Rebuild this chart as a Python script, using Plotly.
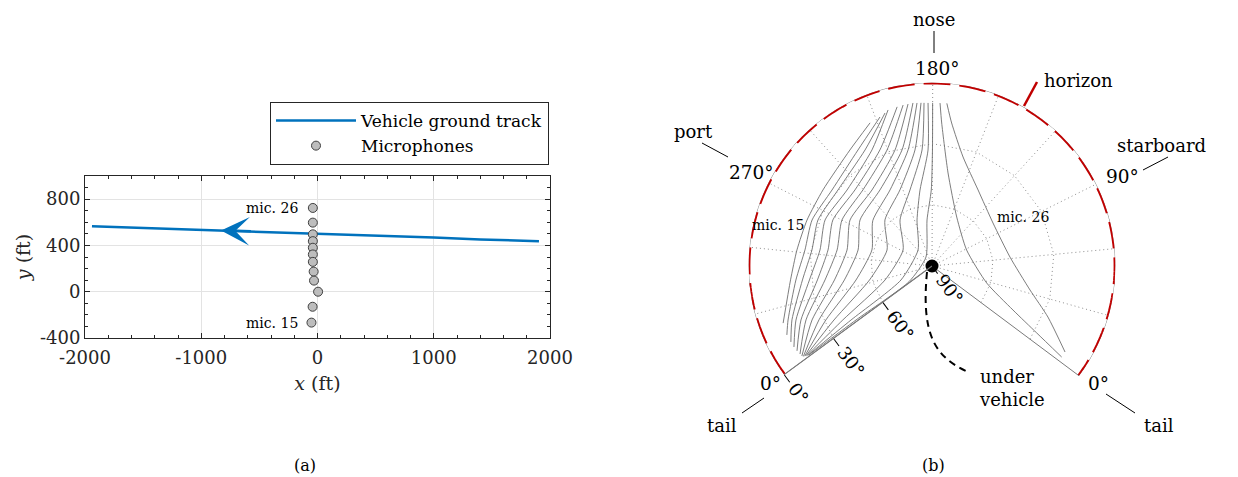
import plotly.graph_objects as go

W, H = 1238, 477
FONT = "DejaVu Serif"
BLUE = "#0072BD"
RED = "#C00000"
GREY = "#7a7a7a"
INK = "#262626"

# ---------------- panel (a): ground track and microphones ----------------
track_x = [-1940, -1000, 0, 1000, 1400, 1905]
track_y = [565, 536, 504, 468, 452, 437]
mic_x = [-40, -40, -40, -40, -40, -40, -40, -33, -30, 5, -42, -52]
mic_y = [724, 597, 496, 437, 380, 322, 258, 174, 96, 0, -130, -267]
x_ticks = [-2000, -1000, 0, 1000, 2000]
y_ticks = [-400, 0, 400, 800]

# ---------------- panel (b): emission directions (azimuth, elevation in deg) ----------------
port_1_az = [213.6, 230.5, 258.7, 279.6, 298.7, 316.3, 338.2]
port_1_el = [13.5, 20.3, 24.8, 24.7, 23.3, 20.3, 11.8]
port_2_az = [207.7, 226.6, 255.4, 278.5, 298.1, 316.7, 337.6, 344.5]
port_2_el = [12.6, 22.5, 28.4, 27.0, 27.2, 22.9, 14.6, 11.2]
port_3_az = [204.6, 223.0, 252.9, 277.1, 297.5, 317.1, 338.3, 348.6]
port_3_el = [11.5, 24.3, 30.7, 29.7, 30.6, 26.1, 16.4, 11.4]
port_4_az = [202.7, 219.2, 248.9, 275.2, 296.8, 317.6, 339.2, 351.6]
port_4_el = [10.5, 25.9, 34.1, 32.9, 34.5, 29.5, 18.2, 11.5]
port_5_az = [197.9, 214.7, 244.8, 272.9, 295.9, 318.2, 340.2, 354.1]
port_5_el = [10.1, 27.6, 36.9, 36.4, 38.4, 33.4, 20.5, 11.8]
port_6_az = [194.8, 210.5, 240.4, 269.8, 294.7, 318.9, 341.3, 356.3]
port_6_el = [9.8, 29.0, 39.6, 40.4, 42.8, 37.1, 22.8, 12.2]
port_7_az = [192.3, 205.5, 234.8, 266.7, 293.2, 319.9, 342.8, 357.7]
port_7_el = [9.7, 30.3, 42.5, 43.9, 47.6, 41.7, 25.5, 12.4]
port_8_az = [189.8, 200.9, 229.2, 262.0, 291.0, 321.2, 344.6, 358.3]
port_8_el = [9.5, 31.2, 44.8, 48.1, 52.9, 46.5, 28.6, 12.9]
port_9_az = [187.8, 196.9, 221.4, 255.0, 287.1, 323.2, 346.7, 358.6]
port_9_el = [9.7, 31.9, 47.4, 53.4, 59.5, 52.1, 31.6, 13.5]
port_10_az = [185.8, 192.2, 212.8, 245.2, 280.5, 326.3, 349.4, 358.8]
port_10_el = [9.8, 32.5, 49.5, 57.7, 66.6, 58.6, 35.1, 14.0]
port_11_az = [184.3, 187.3, 203.3, 229.8, 267.2, 331.9, 352.7, 359.0]
port_11_el = [9.9, 32.9, 51.2, 62.5, 73.8, 66.0, 38.9, 14.5]
port_12_az = [182.3, 183.1, 193.1, 206.0, 238.9, 342.9, 356.3, 359.2]
port_12_el = [10.0, 33.1, 52.3, 66.3, 79.6, 73.3, 42.3, 15.0]
port_13_az = [180.0, 180.0, 181.1, 189.1, 228.2, 357.0, 358.7, 359.4]
port_13_el = [10.0, 33.1, 52.7, 67.3, 84.7, 76.5, 44.3, 15.5]
stbd_25_az = [176.3, 174.8, 166.4, 142.2, 87.5, 27.7, 11.7, 5.9, 2.4]
stbd_25_el = [10.0, 19.7, 43.7, 63.1, 71.3, 61.9, 44.8, 29.0, 12.3]
stbd_26_az = [172.9, 169.2, 157.7, 135.9, 102.3, 61.6, 32.7, 18.5, 5.5]
stbd_26_el = [9.9, 19.2, 34.4, 46.4, 53.4, 51.5, 40.5, 27.9, 12.3]

grid_az = [30, 60, 90, 120, 150, 180, 210, 240, 270, 300, 330]
ring_el = [30, 60]
ring_az = [0, 30, 60, 90, 120, 150, 180, 210, 240, 270, 300, 330, 360]
horizon_az = list(range(0, 361, 2))
elev_ticks = [0, 30, 60, 90]
elev_labels = ["0°", "30°", "60°", "90°"]

# projection style: 360 deg of azimuth drawn over this arc, tail pointing down
ARC_SPAN = 253.05
ARC_ROTATION = -36.75
K = ARC_SPAN / 360.0


def th(az):
    return [None if a is None else a * K for a in az]


def px(x):
    return x / W


def py(y):
    return 1 - y / H


fig = go.Figure()

# ---- panel (a)
fig.add_trace(go.Scatter(x=track_x, y=track_y, mode="lines", name="Vehicle ground track",
                         line=dict(color=BLUE, width=2.5)))
fig.add_trace(go.Scatter(x=mic_x, y=mic_y, mode="markers", name="Microphones",
                         marker=dict(size=9, color="#bdbdbd", line=dict(color="#404040", width=1))))

# ---- panel (b)
sp_t, sp_r = [], []
for a in grid_az:
    sp_t += [a, a, None]
    sp_r += [90, 0, None]
fig.add_trace(go.Scatterpolar(theta=th(sp_t), r=sp_r, mode="lines", showlegend=False,
                              line=dict(color="#8c8c8c", width=1, dash="1px,3px"),
                              connectgaps=False, hoverinfo="skip"))
for e in ring_el:
    fig.add_trace(go.Scatterpolar(theta=th(ring_az), r=[e] * len(ring_az), mode="lines",
                                  showlegend=False, hoverinfo="skip",
                                  line=dict(color="#8c8c8c", width=1, dash="1px,3px")))

fig.add_trace(go.Scatterpolar(theta=th(horizon_az), r=[0] * len(horizon_az), mode="lines",
                              showlegend=False, cliponaxis=False,
                              line=dict(color=GREY, width=1)))
fig.add_trace(go.Scatterpolar(theta=th(horizon_az[::-1]), r=[0] * len(horizon_az), mode="lines",
                              showlegend=False, cliponaxis=False,
                              line=dict(color=RED, width=3.8, dash="27px,9px")))
for a in (0, 360):
    fig.add_trace(go.Scatterpolar(theta=th([a, a]), r=[90, 0], mode="lines", showlegend=False,
                                  cliponaxis=False, line=dict(color=GREY, width=1)))

curves = [
    (port_1_az, port_1_el), (port_2_az, port_2_el), (port_3_az, port_3_el),
    (port_4_az, port_4_el), (port_5_az, port_5_el), (port_6_az, port_6_el),
    (port_7_az, port_7_el), (port_8_az, port_8_el), (port_9_az, port_9_el),
    (port_10_az, port_10_el), (port_11_az, port_11_el), (port_12_az, port_12_el),
    (port_13_az, port_13_el), (stbd_25_az, stbd_25_el), (stbd_26_az, stbd_26_el),
]
for az, el in curves:
    fig.add_trace(go.Scatterpolar(theta=th(az), r=el, mode="lines", showlegend=False,
                                  line=dict(color="#6e6e6e", width=0.9, shape="spline",
                                            smoothing=0.6)))

fig.add_trace(go.Scatterpolar(theta=[0], r=[90], mode="markers", showlegend=False,
                              marker=dict(size=13, color="black")))

# ---- annotations (labels)
ann = []


def label(text, x, y, size=18, xanchor="center", align="center", **kw):
    ann.append(dict(text=text, x=px(x), y=py(y), xref="paper", yref="paper", showarrow=False,
                    xanchor=xanchor, yanchor="middle", align=align,
                    font=dict(family=FONT, size=size, color="black"), **kw))


label("nose", 934, 19)
label("180°", 937, 68, 18.5)
label("horizon", 1042, 81, xanchor="left")
label("port", 693, 132)
label("270°", 751, 172, 18.5)
label("starboard", 1161, 145)
label("90°", 1122, 177, 18.5)
label("mic. 15", 778, 225, 14)
label("mic. 26", 1023, 217, 14)
label("0°", 770, 383, 18.5)
label("tail", 722, 425)
label("0°", 1098, 383, 18.5)
label("tail", 1159, 425)
label("under<br>vehicle", 977, 388, xanchor="left", align="left")
label("(a)", 305, 465, 16)
label("(b)", 934, 465, 16)

ann.append(dict(text="mic. 26", x=-150, y=mic_y[0], xref="x", yref="y", showarrow=False,
                xanchor="right", font=dict(family=FONT, size=14, color="black")))
ann.append(dict(text="mic. 15", x=-150, y=mic_y[-1], xref="x", yref="y", showarrow=False,
                xanchor="right", font=dict(family=FONT, size=14, color="black")))
ann.append(dict(text="", x=-830, y=530, ax=-560, ay=522, xref="x", yref="y", axref="x",
                ayref="y", showarrow=True, arrowhead=3, arrowsize=1.9, arrowwidth=2.5,
                arrowcolor=BLUE))

shapes = []


def seg(x0, y0, x1, y1, color="black", width=1):
    shapes.append(dict(type="line", xref="paper", yref="paper", x0=px(x0), y0=py(y0),
                       x1=px(x1), y1=py(y1), line=dict(color=color, width=width)))


seg(934, 31, 934, 53)
seg(702, 143, 728, 157)
seg(1143, 170, 1168, 157)
seg(742, 413, 764, 398)
seg(1106, 394, 1135, 413)
seg(1037, 82, 1024, 106, RED, 2.5)
path = "M {} {} C {} {}, {} {}, {} {}".format(px(927), py(272), px(921), py(335),
                                              px(935), py(357), px(968), py(372))
shapes.append(dict(type="path", xref="paper", yref="paper", path=path,
                   line=dict(color="black", width=2, dash="7px,5px")))

cx, cy, R = 932, 266, 183.5
fig.update_layout(
    width=W, height=H, template="none",
    margin=dict(l=0, r=0, t=0, b=0),
    paper_bgcolor="white", plot_bgcolor="white",
    font=dict(family=FONT, color=INK),
    xaxis=dict(domain=[px(85), px(550)], range=[-2000, 2000], tickvals=x_ticks,
               ticktext=[str(v) for v in x_ticks],
               showline=True, linecolor=INK, linewidth=1, mirror="ticks",
               ticks="inside", ticklen=5, tickcolor=INK, ticklabelstandoff=3,
               minor=dict(dtick=200, ticks="inside", ticklen=3, tickcolor=INK, showgrid=False),
               showgrid=True, gridcolor="#e3e3e3", zeroline=False,
               tickfont=dict(size=18, family=FONT, color=INK),
               title=dict(text="<i>x</i> (ft)", font=dict(size=19, family=FONT, color=INK),
                          standoff=10)),
    yaxis=dict(domain=[py(338), py(176)], range=[-400, 1000], tickvals=y_ticks,
               ticktext=[str(v) for v in y_ticks],
               showline=True, linecolor=INK, linewidth=1, mirror="ticks",
               ticks="inside", ticklen=5, tickcolor=INK,
               minor=dict(dtick=100, ticks="inside", ticklen=3, tickcolor=INK, showgrid=False),
               showgrid=True, gridcolor="#e3e3e3", zeroline=False,
               tickfont=dict(size=18, family=FONT, color=INK),
               title=dict(text="<i>y</i> (ft)", font=dict(size=19, family=FONT, color=INK),
                          standoff=4)),
    legend=dict(x=px(549), y=py(102), xanchor="right", yanchor="top",
                bordercolor=INK, borderwidth=1, bgcolor="white",
                font=dict(size=17, family=FONT, color="black"), itemwidth=80,
                tracegroupgap=2),
    polar=dict(
        domain=dict(x=[px(cx - R), px(cx + R)], y=[py(cy + R), py(cy - R)]),
        bgcolor="rgba(0,0,0,0)",
        angularaxis=dict(visible=False, rotation=ARC_ROTATION, direction="counterclockwise",
                         showgrid=False),
        radialaxis=dict(range=[90, 0], angle=ARC_ROTATION + ARC_SPAN, side="counterclockwise",
                        showline=True, linecolor=GREY, linewidth=1, showgrid=False,
                        ticks="outside", ticklen=9, tickcolor="black",
                        tickvals=elev_ticks, ticktext=elev_labels, tickangle=-90,
                        tickfont=dict(size=18, family=FONT, color="black")),
    ),
    annotations=ann, shapes=shapes,
)

fig.write_html("out.html", config={"displayModeBar": False},
               post_script="document.body.style.margin='0px';")
